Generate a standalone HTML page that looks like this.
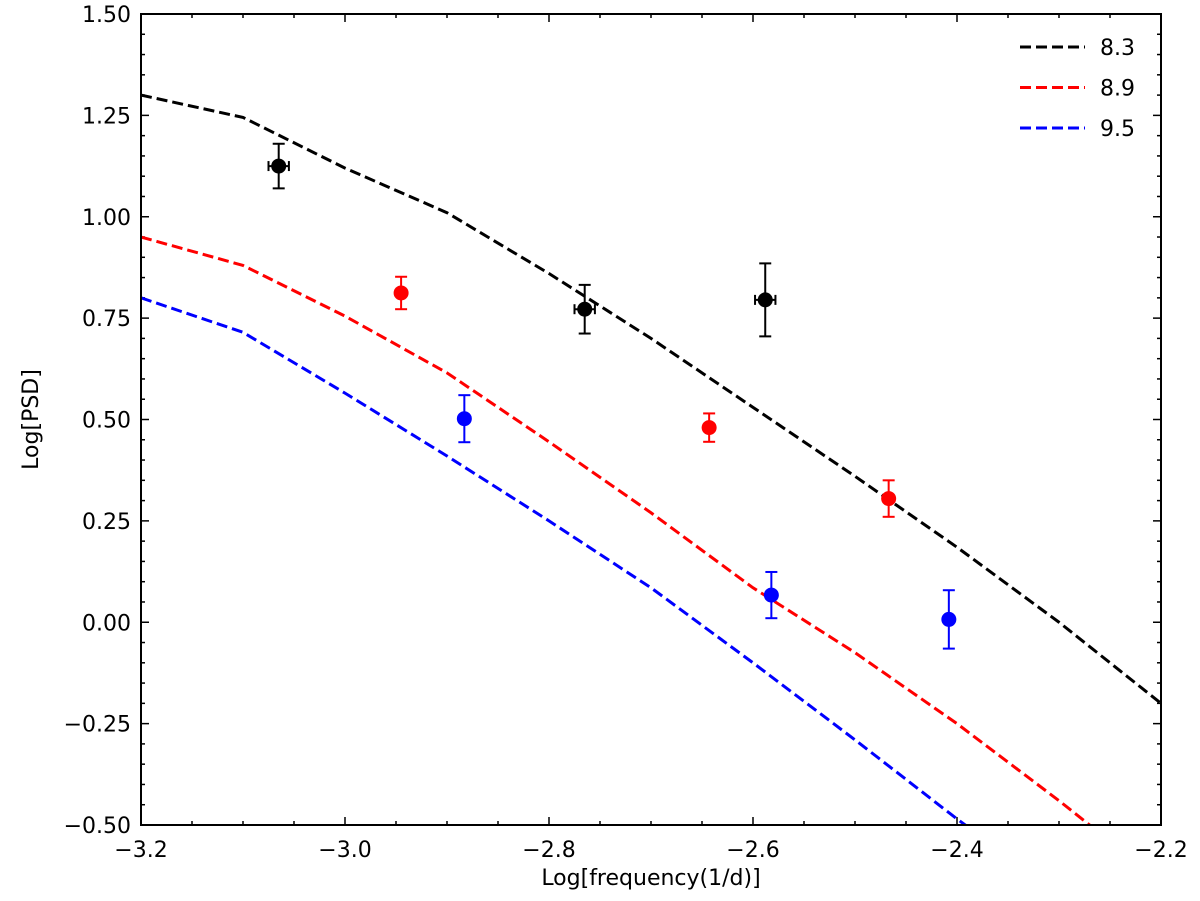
<!DOCTYPE html>
<html><head><meta charset="utf-8"><style>
html,body{margin:0;padding:0;background:#fff;overflow:hidden;width:1200px;height:901px}
svg{display:block}
svg text{font-family:"DejaVu Sans","Liberation Sans",sans-serif;fill:#000}
</style></head><body>
<svg id="chart" width="1200" height="901" xmlns="http://www.w3.org/2000/svg"></svg>
<script>
const xTicks=[-3.2,-3.0,-2.8,-2.6,-2.4,-2.2];
const xTickLabels=["\u22123.2","\u22123.0","\u22122.8","\u22122.6","\u22122.4","\u22122.2"];
const yTicks=[-0.5,-0.25,0,0.25,0.5,0.75,1.0,1.25,1.5];
const yTickLabels=["\u22120.50","\u22120.25","0.00","0.25","0.50","0.75","1.00","1.25","1.50"];
const lineX=[-3.2,-3.1,-3.0,-2.9,-2.8,-2.7,-2.6,-2.5,-2.4,-2.3,-2.2];
const line83=[1.30,1.245,1.12,1.01,0.86,0.70,0.53,0.36,0.185,0.0,-0.20];
const line89=[0.95,0.88,0.755,0.615,0.445,0.27,0.085,-0.075,-0.25,-0.44,-0.64];
const line95=[0.80,0.715,0.565,0.41,0.25,0.085,-0.10,-0.29,-0.485,-0.67,-0.85];
const ptsBlackX=[-3.065,-2.765,-2.588], ptsBlackY=[1.125,0.772,0.795], ptsBlackErr=[0.055,0.06,0.09], ptsBlackXErr=[0.01,0.01,0.01];
const ptsRedX=[-2.945,-2.643,-2.467], ptsRedY=[0.812,0.48,0.305], ptsRedErr=[0.04,0.035,0.045];
const ptsBlueX=[-2.883,-2.582,-2.408], ptsBlueY=[0.502,0.067,0.007], ptsBlueErr=[0.058,0.057,0.072];
const legendLabels=["8.3","8.9","9.5"];

const L=141,R=1161,T=14,B=825;
const sx=v=>L+(v+3.2)/1.0*(R-L);
const sy=v=>T+(1.5-v)/2.0*(B-T);
const svg=document.getElementById('chart');
const NS="http://www.w3.org/2000/svg";
function mk(tag,attrs,parent){const e=document.createElementNS(NS,tag);for(const k in attrs)e.setAttribute(k,attrs[k]);(parent||svg).appendChild(e);return e;}
const defs=mk('defs',{});const cp=mk('clipPath',{id:'clip'},defs);mk('rect',{x:L,y:T,width:R-L,height:B-T},cp);

const tg=mk('g',{});


for(let i=0;i<=20;i++){const x=sx(-3.2+i*0.05);const len=i%4===0?8:4;
mk('line',{x1:x,y1:B,x2:x,y2:B-len,stroke:'#000','stroke-width':1.5},tg);mk('line',{x1:x,y1:T,x2:x,y2:T+len,stroke:'#000','stroke-width':1.5},tg);}
for(let i=0;i<=40;i++){const y=sy(-0.5+i*0.05);const len=i%5===0?8:4;
mk('line',{x1:L,y1:y,x2:L+len,y2:y,stroke:'#000','stroke-width':1.5},tg);mk('line',{x1:R,y1:y,x2:R-len,y2:y,stroke:'#000','stroke-width':1.5},tg);}
xTicks.forEach((v,i)=>{const t=mk('text',{x:sx(v),y:B+32,'text-anchor':'middle','font-size':22});t.textContent=xTickLabels[i];

});
yTicks.forEach((v,i)=>{const t=mk('text',{x:L-10,y:sy(v)+8,'text-anchor':'end','font-size':22});t.textContent=yTickLabels[i];

});

function dline(xs,ys,color,name){const p=mk('polyline',{points:xs.map((x,i)=>sx(x)+','+sy(ys[i])).join(' '),fill:'none',stroke:color,'stroke-width':3,'stroke-dasharray':'11 5','clip-path':'url(#clip)'});

}
dline(lineX,line83,'#000','line-8-3');
dline(lineX,line89,'#ff0000','line-8-9');
dline(lineX,line95,'#0000ff','line-9-5');

function pts(xs,ys,errs,xerrs,color,name){xs.forEach((x,i)=>{const g=mk('g',{});


const cx=sx(x),cy=sy(ys[i]),y1=sy(ys[i]+errs[i]),y2=sy(ys[i]-errs[i]);
mk('line',{x1:cx,y1:y1,x2:cx,y2:y2,stroke:color,'stroke-width':2},g);
mk('line',{x1:cx-6,y1:y1,x2:cx+6,y2:y1,stroke:color,'stroke-width':2},g);
mk('line',{x1:cx-6,y1:y2,x2:cx+6,y2:y2,stroke:color,'stroke-width':2},g);
if(xerrs){const a=sx(x-xerrs[i]),b=sx(x+xerrs[i]);mk('line',{x1:a,y1:cy,x2:b,y2:cy,stroke:color,'stroke-width':2},g);
mk('line',{x1:a,y1:cy-5,x2:a,y2:cy+5,stroke:color,'stroke-width':2},g);mk('line',{x1:b,y1:cy-5,x2:b,y2:cy+5,stroke:color,'stroke-width':2},g);}
mk('circle',{cx:cx,cy:cy,r:7.5,fill:color},g);});}
pts(ptsBlackX,ptsBlackY,ptsBlackErr,ptsBlackXErr,'#000','point-8-3');
pts(ptsRedX,ptsRedY,ptsRedErr,null,'#ff0000','point-8-9');
pts(ptsBlueX,ptsBlueY,ptsBlueErr,null,'#0000ff','point-9-5');

mk('rect',{x:L,y:T,width:R-L,height:B-T,fill:'none',stroke:'#000','stroke-width':2});

const colors=['#000','#ff0000','#0000ff'];
legendLabels.forEach((lab,i)=>{const g=mk('g',{});


const y=47+i*40.5;mk('line',{x1:1020,y1:y,x2:1085,y2:y,stroke:colors[i],'stroke-width':3,'stroke-dasharray':'11 5'},g);
const t=mk('text',{x:1100,y:y+8,'font-size':22},g);t.textContent=lab;});

const xl=mk('text',{x:(L+R)/2,y:885,'text-anchor':'middle','font-size':22});xl.textContent='Log[frequency(1/d)]';


const yl=mk('text',{x:0,y:0,'text-anchor':'middle','font-size':22,transform:'translate(38,'+((T+B)/2)+') rotate(-90)'});yl.textContent='Log[PSD]';


</script>
</body></html>
